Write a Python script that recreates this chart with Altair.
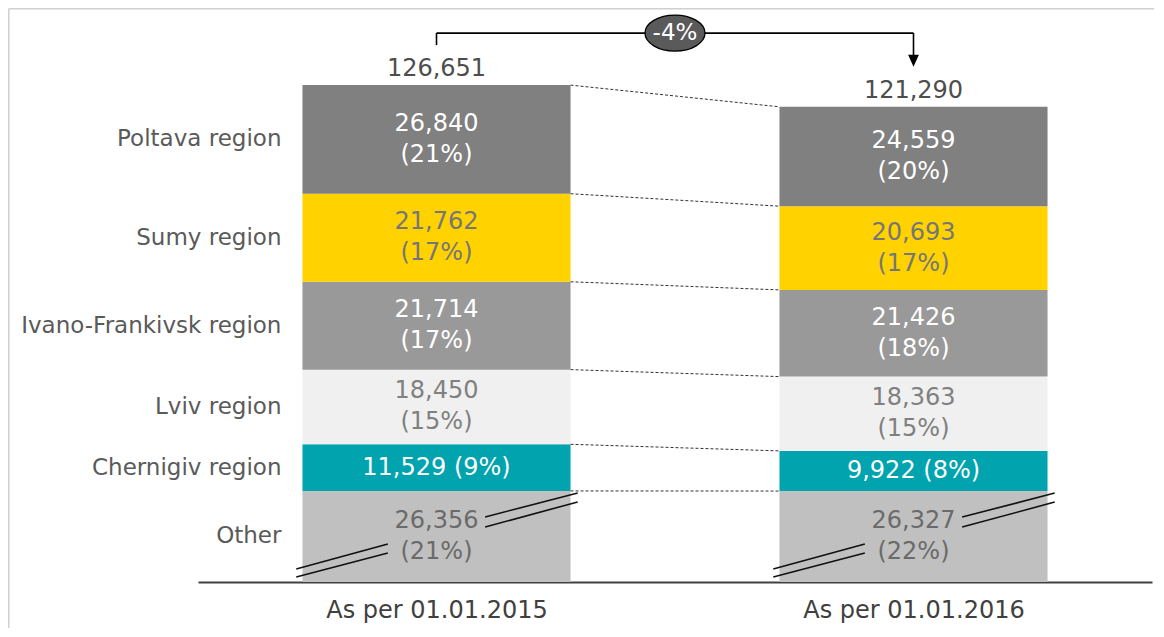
import altair as alt
import pandas as pd

# ---------------- data ----------------
periods = ["As per 01.01.2015", "As per 01.01.2016"]
regions = ["Poltava region", "Sumy region", "Ivano-Frankivsk region",
           "Lviv region", "Chernigiv region", "Other"]
values_2015 = [26840, 21762, 21714, 18450, 11529, 26356]
values_2016 = [24559, 20693, 21426, 18363, 9922, 26327]
shares_2015 = [21, 17, 17, 15, 9, 21]
shares_2016 = [20, 17, 18, 15, 8, 22]
totals = [126651, 121290]
change_label = "-4%"

# ---------------- styles ----------------
seg_colors = ["#808080", "#FFD200", "#999999", "#F0F0F0", "#00A3AE", "#C0C0C0"]
txt_colors = ["#FFFFFF", "#767676", "#FFFFFF", "#808080", "#FFFFFF", "#6A6A6A"]
FONT = "DejaVu Sans"

W, H = 954, 560
Y_MAX = 138400
PX = H / Y_MAX              # pixels per unit
BREAK = 3850                # part of "Other" hidden by the axis break
pos = [0.5, 1.5]            # bar centres on the x scale
HALF = 0.281                # half bar width (x units)
LINE_H = 31

# ---------------- tables ----------------
rows = []
tops = {}
for pi, (period, vals, shares) in enumerate(zip(periods, [values_2015, values_2016],
                                                [shares_2015, shares_2016])):
    base = 0.0
    for ri in reversed(range(len(regions))):
        reg = regions[ri]
        v = vals[ri]
        drawn = v - BREAK if reg == "Other" else v
        y0, y1 = base, base + drawn
        base = y1
        single = reg == "Chernigiv region"
        lab = f"{v:,} ({shares[ri]}%)" if single else f"{v:,}\n({shares[ri]}%)"
        rows.append(dict(period=period, region=reg, value=v, x0=pos[pi] - HALF,
                         x1=pos[pi] + HALF, xc=pos[pi], y0=y0, y1=y1,
                         ym=(y0 + y1) / 2, label=lab, single=single,
                         tcolor=txt_colors[ri]))
    tops[period] = base
seg = pd.DataFrame(rows)

tot = pd.DataFrame(dict(period=periods, xc=pos, top=[tops[p] for p in periods],
                        label=[f"{t:,}" for t in totals]))

# dashed connectors at the top of every segment
s15 = seg[seg.period == periods[0]].set_index("region")
s16 = seg[seg.period == periods[1]].set_index("region")
conn = pd.DataFrame(dict(xa=[pos[0] + HALF] * len(regions), xb=[pos[1] - HALF] * len(regions),
                         ya=[s15.loc[r, "y1"] for r in regions],
                         yb=[s16.loc[r, "y1"] for r in regions]))

# axis-break marks on the "Other" segment
brk_rows = []
for pi, period in enumerate(periods):
    o = seg[(seg.period == period) & (seg.region == "Other")].iloc[0]
    h = o.y1 - o.y0
    c = pos[pi]
    for f0, f1 in [(0.714, 0.978), (0.604, 0.879)]:
        brk_rows.append(dict(xa=c + 0.102, xb=c + HALF + 0.015, ya=o.y0 + f0 * h, yb=o.y0 + f1 * h))
    for f0, f1 in [(0.143, 0.417), (0.055, 0.319)]:
        brk_rows.append(dict(xa=c - HALF - 0.013, xb=c - 0.102, ya=o.y0 + f0 * h, yb=o.y0 + f1 * h))
brk = pd.DataFrame(brk_rows)

# bracket with change label
gap = 40 / PX
level = max(tops.values()) + 52 / PX
arrow_y = tops[periods[1]] + gap + 6 / PX
bracket = pd.DataFrame(dict(
    xa=[pos[0], pos[0], pos[1]],
    xb=[pos[1], pos[0], pos[1]],
    ya=[level, level, level],
    yb=[level, tops[periods[0]] + gap, arrow_y]))
arrow = pd.DataFrame(dict(x=[pos[1]], y=[arrow_y]))
badge = pd.DataFrame(dict(x=[(pos[0] + pos[1]) / 2], y=[level], label=[change_label]))

# ---------------- chart ----------------
xs = alt.Scale(domain=[0, 2], nice=False, zero=False)
ys = alt.Scale(domain=[0, Y_MAX], nice=False)
label_expr = f"datum.value < 1 ? '{periods[0]}' : '{periods[1]}'"
xaxis = alt.Axis(values=pos, labelExpr=label_expr, grid=False, ticks=False, tickSize=0,
                 domainColor="#404040", domainWidth=2, labelFont=FONT, labelFontSize=24,
                 labelColor="#404040", labelPadding=35, labelBaseline="alphabetic",
                 labelLimit=0, labelFlush=False, labelOverlap=False, title=None)


def X(field):
    return alt.X(field, scale=xs, axis=xaxis)


def Y(field):
    return alt.Y(field, scale=ys, axis=None)


bars = alt.Chart(seg).mark_rect().encode(
    x=X("x0:Q"), x2="x1:Q", y=Y("y0:Q"), y2="y1:Q",
    color=alt.Color("region:N", scale=alt.Scale(domain=regions, range=seg_colors), legend=None))

connectors = alt.Chart(conn).mark_rule(strokeDash=[3, 2], color="#333333", strokeWidth=1).encode(
    x=X("xa:Q"), x2="xb:Q", y=Y("ya:Q"), y2="yb:Q")

breaks = alt.Chart(brk).mark_rule(color="#111111", strokeWidth=1.6).encode(
    x=X("xa:Q"), x2="xb:Q", y=Y("ya:Q"), y2="yb:Q")

seg_labels2 = alt.Chart(seg[~seg.single]).mark_text(
    font=FONT, fontSize=24, lineBreak="\n", lineHeight=LINE_H, baseline="middle",
    dy=-LINE_H / 2).encode(
    x=X("xc:Q"), y=Y("ym:Q"), text="label:N", color=alt.Color("tcolor:N", scale=None))

seg_labels1 = alt.Chart(seg[seg.single]).mark_text(
    font=FONT, fontSize=24, baseline="middle").encode(
    x=X("xc:Q"), y=Y("ym:Q"), text="label:N", color=alt.Color("tcolor:N", scale=None))

cat_labels = alt.Chart(seg[seg.period == periods[0]]).mark_text(
    font=FONT, fontSize=23, align="right", baseline="middle", dx=-21, color="#5A5A5A").encode(
    x=X("x0:Q"), y=Y("ym:Q"), text="region:N")

tot_labels = alt.Chart(tot).mark_text(font=FONT, fontSize=24, baseline="alphabetic", dy=-9,
                                      color="#4D4D4D").encode(
    x=X("xc:Q"), y=Y("top:Q"), text="label:N")

bracket_lines = alt.Chart(bracket).mark_rule(color="#000000", strokeWidth=1.6).encode(
    x=X("xa:Q"), x2="xb:Q", y=Y("ya:Q"), y2="yb:Q")

arrow_head = alt.Chart(arrow).mark_point(shape="M -0.9 -1 L 0.9 -1 L 0 1 Z", size=144, filled=True,
                                         color="#000000", opacity=1).encode(
    x=X("x:Q"), y=Y("y:Q"))

ellipse = alt.Chart(badge).mark_point(
    shape="M -1 0 A 1 0.6 0 1 1 1 0 A 1 0.6 0 1 1 -1 0 Z", size=3600, filled=True,
    fill="#5A5A5A", stroke="#000000", strokeWidth=1.3, opacity=1).encode(
    x=X("x:Q"), y=Y("y:Q"))

badge_text = alt.Chart(badge).mark_text(font=FONT, fontSize=23, color="#FFFFFF",
                                        baseline="middle").encode(
    x=X("x:Q"), y=Y("y:Q"), text="label:N")

frame = alt.Chart(pd.DataFrame({"k": [0]})).mark_rule(color="#D0D0D0", strokeWidth=1.5).encode(
    x=alt.value(-189.25), x2=alt.value(W + 20), y=alt.value(-13.25))
frame_left = alt.Chart(pd.DataFrame({"k": [0]})).mark_rule(color="#D0D0D0", strokeWidth=1.5).encode(
    x=alt.value(-189.25), y=alt.value(-13.25), y2=alt.value(H + 80))

chart = alt.layer(
    bars, connectors, breaks, seg_labels2, seg_labels1, cat_labels, tot_labels,
    bracket_lines, arrow_head, ellipse, badge_text, frame, frame_left
).properties(
    width=W, height=H, autosize="none",
    padding={"left": 190, "top": 14, "right": 2, "bottom": 46},
    background="#FFFFFF"
).configure_view(stroke=None)

chart.save("out.html", embed_options={"renderer": "svg", "actions": False})
